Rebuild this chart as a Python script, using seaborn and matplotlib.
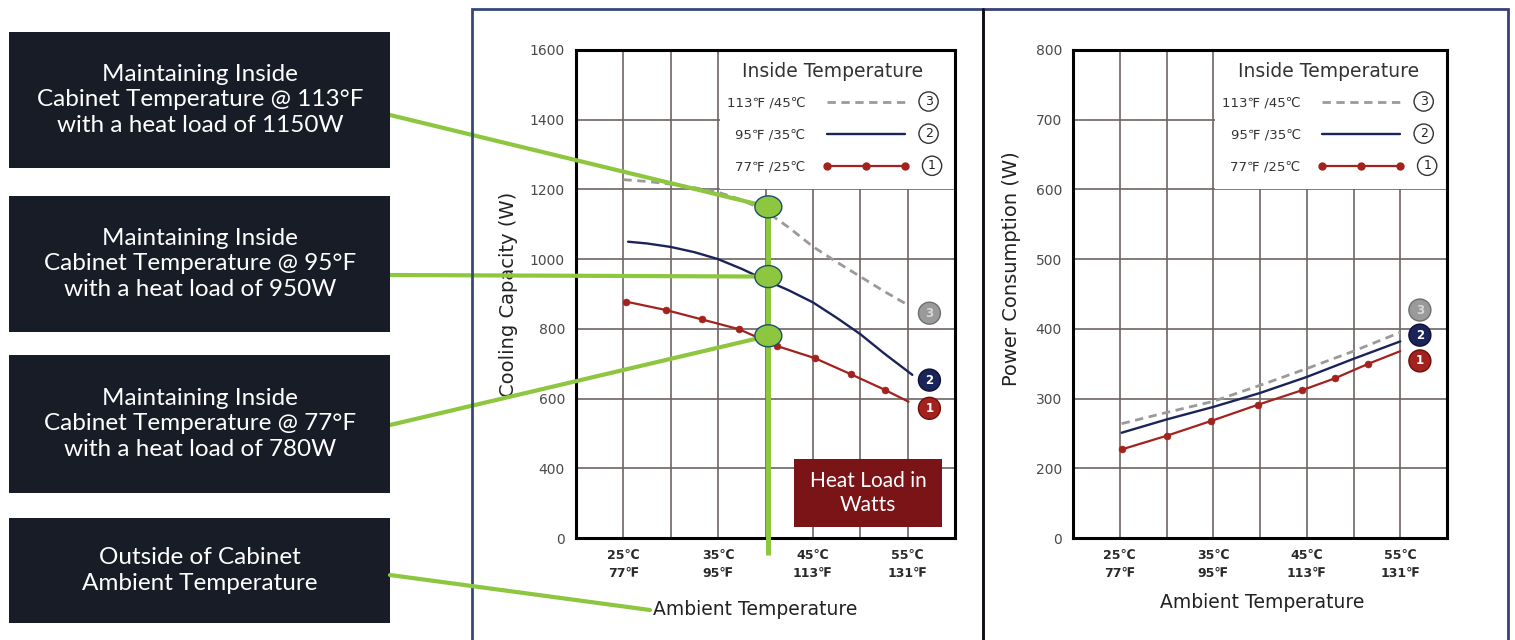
import numpy as np
import pandas as pd
import seaborn as sns
import matplotlib.pyplot as plt
from matplotlib.patches import Rectangle, Ellipse, ConnectionPatch
from matplotlib.lines import Line2D

# ---- values ----
tick_c = [25, 35, 45, 55]
tick_labels = ['25℃\n77℉', '35℃\n95℉', '45℃\n113℉', '55℃\n131℉']
series_labels = ['113℉ /45℃', '95℉ /35℃', '77℉ /25℃']

# cooling capacity (W) vs ambient temperature (C)
cap_113_x = [25, 27.5, 30, 32.5, 35, 37.5, 40, 42.5, 45, 47.5, 50, 52.5, 55.2]
cap_113_y = [1228, 1223, 1215, 1205, 1192, 1170, 1138, 1090, 1036, 992, 950, 908, 866]
cap_95_x = [25.5, 27.5, 30, 32.5, 35, 37.5, 40, 42.5, 45, 47.5, 50, 52.5, 55.5]
cap_95_y = [1050, 1045, 1035, 1020, 1000, 972, 940, 910, 876, 832, 785, 730, 668]
cap_77_x = [25.3, 29.5, 33.3, 37.2, 41.2, 45.2, 49.0, 52.6, 55.1]
cap_77_y = [878, 854, 827, 799, 751, 716, 670, 625, 591]

# power consumption (W)
pow_113_x = [25.2, 30, 35, 40, 45, 50, 55]
pow_113_y = [264, 280, 296, 319, 343, 368, 395]
pow_95_x = [25.2, 30, 35, 40, 45, 50, 55]
pow_95_y = [251, 270, 288, 308, 331, 357, 382]
pow_77_x = [25.2, 30.1, 34.8, 39.75, 44.5, 48, 51.6, 55]
pow_77_y = [227, 247, 268, 291, 312, 329, 350, 368]

# y axes are broken: bottom gridline is labelled 0
cap_ticks = [200, 400, 600, 800, 1000, 1200, 1400, 1600]
cap_tick_labels = ['0', '400', '600', '800', '1000', '1200', '1400', '1600']
pow_ticks = [100, 200, 300, 400, 500, 600, 700, 800]
pow_tick_labels = ['0', '200', '300', '400', '500', '600', '700', '800']

heat_load_amb = 40.3
heat_load_w = [1150, 950, 780]
box_texts = ['Maintaining Inside\nCabinet Temperature @ 113°F\nwith a heat load of 1150W',
             'Maintaining Inside\nCabinet Temperature @ 95°F\nwith a heat load of 950W',
             'Maintaining Inside\nCabinet Temperature @ 77°F\nwith a heat load of 780W',
             'Outside of Cabinet\nAmbient Temperature']

gray, navy, red = '#9a9a9a', '#1b2459', '#a3221d'
green = '#8dc63f'

sns.set_theme(style='white')
plt.rcParams['font.family'] = ['DejaVu Sans']
box_font = ['Lato', 'DejaVu Sans']

W, H = 1515, 640
fx = lambda x: x / W
fy = lambda y: 1 - y / H

fig = plt.figure(figsize=(15.15, 6.4), dpi=100)
fig.patch.set_facecolor('white')
ax1 = fig.add_axes([fx(576), fy(538), 379 / W, 488 / H])
ax2 = fig.add_axes([fx(1073), fy(538), 374 / W, 488 / H])


def draw_panel(ax, s113, s95, s77, ticks, tlabels, ylabel, title_x):
    ax.set_axisbelow(True)
    ax.set_xlim(20, 60)
    ax.set_ylim(ticks[0], ticks[-1])
    ax.set_xticks(tick_c)
    ax.set_xticks([30, 40, 50], minor=True)
    ax.set_xticklabels(tick_labels, fontsize=9, fontweight='bold', color='#2a2a2a', linespacing=1.45)
    ax.set_yticks(ticks)
    ax.set_yticklabels(tlabels, fontsize=10, color='#4a4a4a')
    ax.tick_params(which='both', length=0)
    ax.tick_params(axis='x', pad=8)
    ax.tick_params(axis='y', pad=8)
    ax.grid(True, which='both', color='#6e6563', lw=1.2)
    for sp in ax.spines.values():
        sp.set_color('black')
        sp.set_linewidth(2.2)
    # white area behind the legend
    ax.add_patch(Rectangle((0.379, 0.716), 0.621, 0.284, transform=ax.transAxes,
                           facecolor='white', edgecolor='none', zorder=1))

    sns.lineplot(x=s113[0], y=s113[1], ax=ax, color=gray, lw=2, linestyle=(0, (3, 2)), zorder=2)
    sns.lineplot(x=s95[0], y=s95[1], ax=ax, color=navy, lw=1.7, zorder=2)
    sns.lineplot(x=s77[0], y=s77[1], ax=ax, color=red, lw=1.6, zorder=3)
    sns.scatterplot(x=s77[0][:-1], y=s77[1][:-1], ax=ax, color=red, s=25, edgecolor=red, zorder=3)

    ax.set_ylabel(ylabel, fontsize=14, color='#222222')
    ax.set_xlabel('Ambient Temperature', fontsize=13.5, color='#222222')

    ax.text(title_x, 0.955, 'Inside Temperature', transform=ax.transAxes, ha='center', va='center',
            fontsize=13.5, color='#333333', zorder=6)
    handles = [Line2D([], [], color=gray, lw=2, linestyle=(0, (3, 2))),
               Line2D([], [], color=navy, lw=1.7),
               Line2D([], [], color=red, lw=1.6, marker='o', markersize=5)]
    leg = ax.legend(handles, series_labels, loc='upper left',
                    bbox_to_anchor=(0.381, 0.919), frameon=False, markerfirst=False, numpoints=3,
                    handlelength=6.5, handletextpad=1.3, labelspacing=1.45, fontsize=9.5,
                    borderaxespad=0, borderpad=0.5)
    for t in leg.get_texts():
        t.set_color('#333333')
    return leg


leg1 = draw_panel(ax1, (cap_113_x, cap_113_y), (cap_95_x, cap_95_y), (cap_77_x, cap_77_y),
                  cap_ticks, cap_tick_labels, 'Cooling Capacity (W)', 0.678)
leg2 = draw_panel(ax2, (pow_113_x, pow_113_y), (pow_95_x, pow_95_y), (pow_77_x, pow_77_y),
                  pow_ticks, pow_tick_labels, 'Power Consumption (W)', 0.684)
ax1.yaxis.set_label_coords(-0.154, 0.5)
ax1.xaxis.set_label_coords(0.472, -0.127)
ax2.yaxis.set_label_coords(-0.139, 0.553)
ax2.xaxis.set_label_coords(0.505, -0.113)

# circled numbers to the right of the legend keys
fig.canvas.draw()
renderer = fig.canvas.get_renderer()
for ax, leg in [(ax1, leg1), (ax2, leg2)]:
    for h, n in zip(leg.legend_handles, ['3', '2', '1']):
        bb = h.get_window_extent(renderer)
        xa, ya = ax.transAxes.inverted().transform((bb.x1 + 24, (bb.y0 + bb.y1) / 2))
        ax.text(xa, ya, n, transform=ax.transAxes, ha='center', va='center', fontsize=9,
                color='#222222', zorder=6,
                bbox=dict(boxstyle='circle,pad=0.25', fc='white', ec='#333333', lw=1))

# numbered badges at the line ends
badge_style = [('3', gray, '#6f6f6f', '#d8d8d8'), ('2', navy, '#0d1235', 'white'), ('1', red, '#6d0f0c', 'white')]
for ax, pos in [(ax1, [(57.3, 845), (57.3, 653), (57.3, 572)]),
                (ax2, [(57.1, 427), (57.1, 391), (57.1, 354)])]:
    for (n, fc, ec, tc), (x, y) in zip(badge_style, pos):
        ax.text(x, y, n, ha='center', va='center', fontsize=8.5, fontweight='bold', color=tc, zorder=6,
                bbox=dict(boxstyle='circle,pad=0.38', fc=fc, ec=ec, lw=1))

# heat load call-outs
ax1.plot([heat_load_amb, heat_load_amb], [max(heat_load_w), 150], color=green, lw=3.6,
         clip_on=False, zorder=4, solid_capstyle='butt')
for w in heat_load_w:
    ax1.add_patch(Ellipse((heat_load_amb, w), width=2.85, height=63, facecolor=green,
                          edgecolor='#1d4e6b', lw=1, zorder=7, clip_on=False))

box_rows = [(32, 168), (196, 332), (355, 493), (518, 623)]
for (y0, y1), txt in zip(box_rows, box_texts):
    fig.patches.append(Rectangle((fx(9), fy(y1)), 381 / W, (y1 - y0) / H, transform=fig.transFigure,
                                 facecolor='#181c27', edgecolor='none'))
    fig.text(fx(200), fy((y0 + y1) / 2), txt, ha='center', va='center', color='white',
             fontsize=17.5, linespacing=1.28, family=box_font)
for ly, w in zip([115, 275, 425], heat_load_w):
    con = ConnectionPatch(xyA=(fx(390), fy(ly)), coordsA='figure fraction',
                          xyB=(heat_load_amb, w), coordsB='data', axesB=ax1, color=green, lw=3)
    ax1.add_artist(con)
    con.set_clip_on(False)
    con.set_zorder(5)
fig.add_artist(Line2D([fx(390), fx(650)], [fy(575), fy(610)], color=green, lw=3))

# "Heat Load in Watts" tag
fig.patches.append(Rectangle((fx(794), fy(527)), 148 / W, 68 / H, transform=fig.transFigure,
                             facecolor='#7b1416', edgecolor='none', zorder=3))
fig.text(fx(868), fy(493), 'Heat Load in\nWatts', ha='center', va='center', color='white',
         fontsize=15, linespacing=1.25, zorder=4, family=box_font)

# panel frames
fig.patches.append(Rectangle((fx(472), fy(645)), 511 / W, 636 / H, transform=fig.transFigure,
                             facecolor='none', edgecolor='#34497a', lw=2, zorder=0))
fig.patches.append(Rectangle((fx(983), fy(645)), 525 / W, 636 / H, transform=fig.transFigure,
                             facecolor='none', edgecolor='#3a3f7a', lw=2, zorder=0))
fig.add_artist(Line2D([fx(983), fx(983)], [fy(9), fy(645)], color='#111111', lw=2))

fig.savefig('out.png', dpi=100, facecolor='white')
